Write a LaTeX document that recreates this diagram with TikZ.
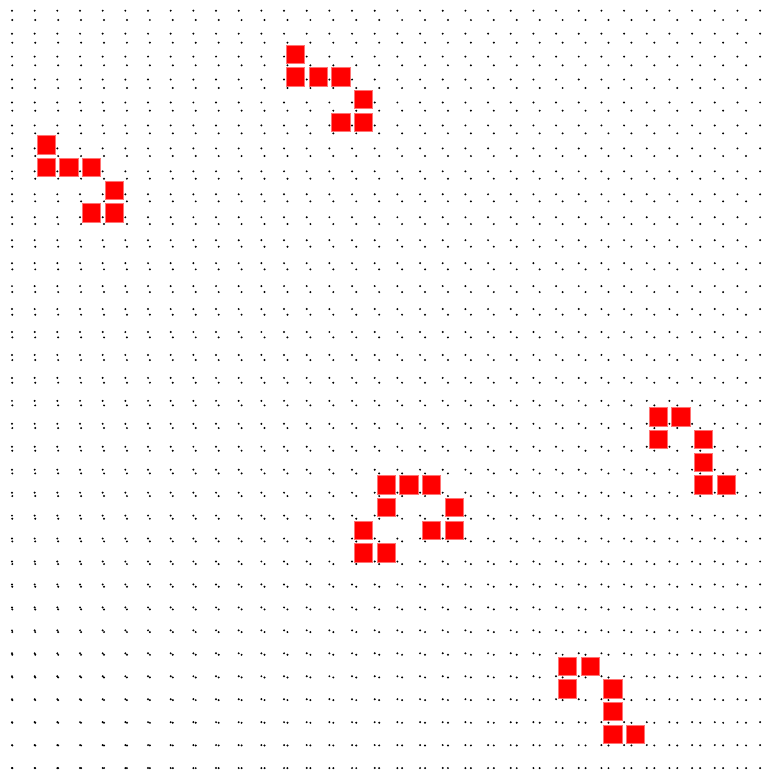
\documentclass[tikz,border=0pt]{standalone}
\usepackage{tikz}

\begin{document}
\begin{tikzpicture}[x=0.03cm, y=-0.03cm,
    griddot/.style={fill=black},
    cell/.style={fill=red, draw=red!55, line width=0.25pt}]
    \useasboundingbox (0,0) rectangle (763,770);

    % Primera rejilla de puntos
    \foreach \i in {0,...,33}
      \foreach \j in {0,...,33}
        \fill[griddot] ({12+22.67*\i},{10.7+22.95*\j}) circle (1.1);

    % Segunda rejilla de puntos (desplazada)
    \foreach \i in {0,...,33}
      \foreach \j in {0,...,33}
        \fill[griddot] ({12.3+22.93*\i},{20+22.67*\j}) circle (1.1);

    % Celulas vivas
    \foreach \i/\j in {12/1,12/2,13/2,14/2,15/3,14/4,15/4,
                       1/5,1/6,2/6,3/6,4/7,3/8,4/8,
                       28/17,29/17,28/18,30/18,30/19,30/20,31/20,
                       16/20,17/20,18/20,16/21,19/21,15/22,18/22,19/22,15/23,16/23,
                       24/28,25/28,24/29,26/29,26/30,26/31,27/31}
      \filldraw[cell] ({14.2+22.67*\i},{22.2+22.67*\j}) rectangle ++(18.3,18.3);
\end{tikzpicture}
\end{document}
